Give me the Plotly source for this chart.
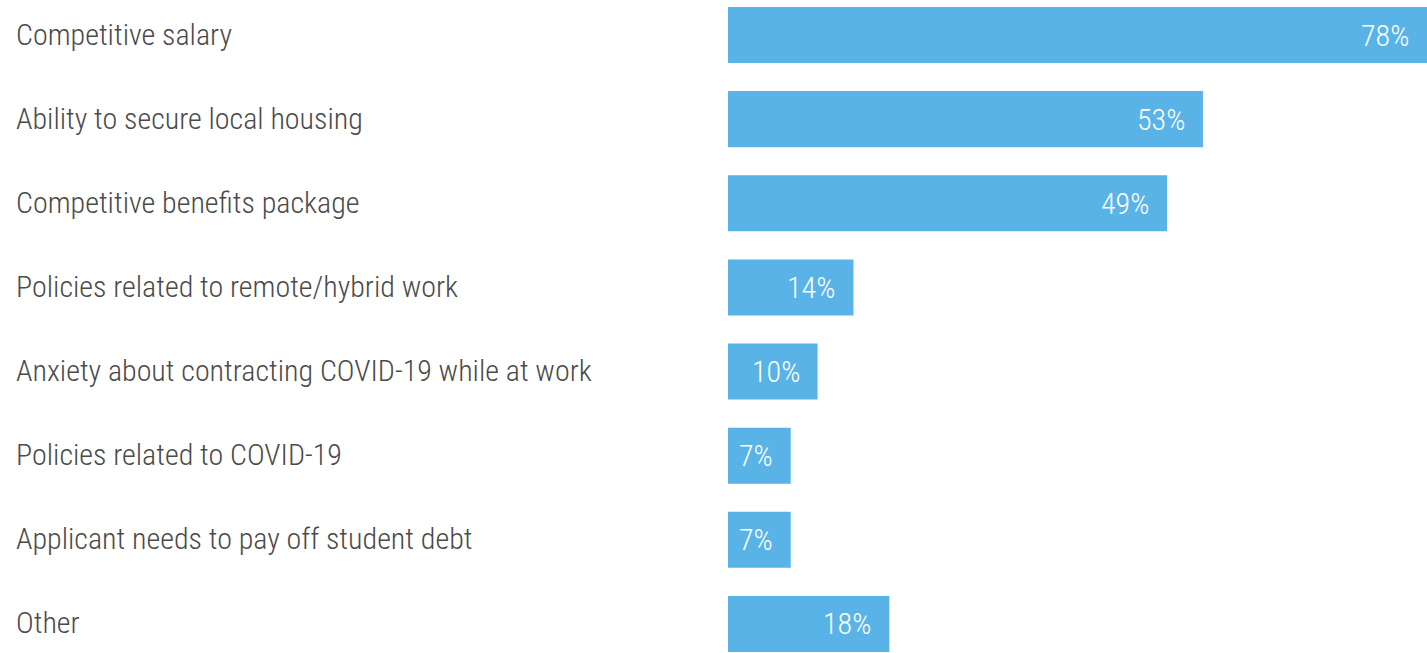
import plotly.graph_objects as go

categories = [
    "Competitive salary",
    "Ability to secure local housing",
    "Competitive benefits package",
    "Policies related to remote/hybrid work",
    "Anxiety about contracting COVID-19 while at work",
    "Policies related to COVID-19",
    "Applicant needs to pay off student debt",
    "Other",
]
values = [78, 53, 49, 14, 10, 7, 7, 18]
value_labels = [f"{v}%" for v in values]

BAR_COLOR = "#5ab3e6"
LABEL_COLOR = "#4a4a4a"
FONT = "Roboto Condensed, Roboto, sans-serif"

positions = list(range(len(categories)))

fig = go.Figure(
    go.Bar(
        x=values,
        y=positions,
        orientation="h",
        marker=dict(color=BAR_COLOR, line=dict(width=0)),
        width=0.666,
        hoverinfo="skip",
    )
)

annotations = []
for pos, cat in zip(positions, categories):
    annotations.append(
        dict(
            x=(14 - 728) / 699,
            xref="paper",
            y=pos,
            yref="y",
            text=cat,
            showarrow=False,
            xanchor="left",
            yanchor="middle",
            yshift=1,
            font=dict(family=FONT, size=30, color=LABEL_COLOR, weight=300),
        )
    )
for pos, v, lab in zip(positions, values, value_labels):
    annotations.append(
        dict(
            x=v,
            xref="x",
            y=pos,
            yref="y",
            text=lab,
            showarrow=False,
            xanchor="right",
            yanchor="middle",
            xshift=-16,
            font=dict(family=FONT, size=30, color="white", weight=300),
        )
    )

fig.update_layout(
    width=1427,
    height=653,
    margin=dict(l=728, r=0, t=0, b=0),
    paper_bgcolor="white",
    plot_bgcolor="white",
    showlegend=False,
    annotations=annotations,
    xaxis=dict(range=[0, 78], visible=False, fixedrange=True),
    yaxis=dict(range=[7.345, -0.416], visible=False, fixedrange=True),
)

fig.write_html("out.html", config={"displayModeBar": False})
